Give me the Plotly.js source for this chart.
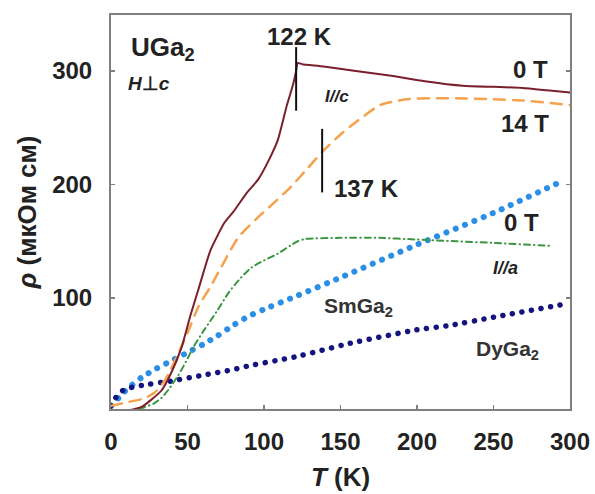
<!DOCTYPE html>
<html>
<head>
<meta charset="utf-8">
<script src="https://cdn.plot.ly/plotly-3.0.1.min.js"></script>
<style>
html,body{margin:0;padding:0;background:#fff;}
path.js-line{stroke-linecap:round !important;}
</style>
</head>
<body>
<div id="chart" style="width:595px;height:494px;"></div>
<script>
// UGa2, I//c, 0 T
const T_c0   = [0, 5, 10, 15, 20, 26, 33, 39, 46, 52, 57, 65, 74, 80, 89, 96, 103, 109, 115, 119, 121, 122, 125, 139, 160, 182, 205, 230, 250, 269, 285, 300];
const rho_c0 = [1, 0.5, 1, 2, 4, 10, 18.5, 33, 56, 85, 107, 142, 166, 176, 193, 204, 221, 239, 270, 288, 300, 307, 306, 304, 300, 296, 291, 287, 286, 285, 283, 281];
// UGa2, I//c, 14 T
const T_c14   = [0, 10, 20, 28, 35, 39, 45, 50, 57, 65, 72, 83, 96, 105, 113, 117, 129, 139, 150, 161, 176, 193, 210, 226, 250, 269, 285, 300];
const rho_c14 = [5, 8, 11, 16, 27, 37, 54, 69, 92, 110, 127, 153, 171, 182, 192, 197, 215, 230, 244, 256, 270, 275, 276, 276, 275, 274, 272, 270];
// UGa2, I//a, 0 T
const T_a0   = [0, 10, 17, 22, 28, 33, 38, 44, 49, 54, 60, 65, 70, 77, 85, 92, 100, 109, 117, 122, 127, 150, 175, 200, 225, 250, 287];
const rho_a0 = [0, 0, 1, 4, 7, 12, 20, 32, 44, 57, 70, 80, 90, 105, 118, 127, 133, 139, 146, 150, 152, 153, 153, 151.5, 150, 148.5, 146];
// SmGa2
const T_sm   = [0, 5, 10, 20, 30, 40, 50, 60, 70, 80, 90, 100, 120, 150, 200, 250, 295];
const rho_sm = [5, 12, 19, 30, 38, 45, 52, 59, 67, 76, 84, 90, 101, 118, 147, 175, 203];
// DyGa2
const T_dy   = [0, 3, 6, 10, 20, 40, 60, 80, 91, 120, 156, 200, 222, 250, 298];
const rho_dy = [5, 12, 17, 20, 23, 27, 32, 37, 40.5, 48, 60, 72, 76, 83, 95];

// transition markers
const trans_T   = [121, 138];
const trans_lo  = [265, 193];
const trans_hi  = [321, 249];

const xTicks = [0, 50, 100, 150, 200, 250, 300];
const yTicks = [100, 200, 300];

const FONT = 'Liberation Sans, Arial, sans-serif';

const traces = [
  {x: T_sm, y: rho_sm, mode: 'lines', line: {color: '#2b8fe6', width: 6, dash: '0.1px,9.9px', shape: 'spline', smoothing: 0.5}},
  {x: T_dy, y: rho_dy, mode: 'lines', line: {color: '#14147e', width: 5.5, dash: '0.1px,9.6px', shape: 'spline', smoothing: 0.5}},
  {x: T_a0, y: rho_a0, mode: 'lines', line: {color: '#3b9542', width: 2, dash: '6px,4px,0.5px,4px', shape: 'spline', smoothing: 0.6}},
  {x: T_c14, y: rho_c14, mode: 'lines', line: {color: '#f4a24e', width: 2.5, dash: '11px,8px', shape: 'spline', smoothing: 0.6}},
  {x: T_c0, y: rho_c0, mode: 'lines', line: {color: '#7a1f2b', width: 2, shape: 'spline', smoothing: 0.5}}
];

const shapes = trans_T.map((t, i) => ({
  type: 'line', xref: 'x', yref: 'y', x0: t, x1: t, y0: trans_lo[i], y1: trans_hi[i],
  line: {color: '#111', width: 2}
}));

function ann(text, x, y, size, color) {
  return {text: text, x: x, y: y, xref: 'x', yref: 'y', showarrow: false,
    xanchor: 'center', yanchor: 'middle',
    font: {family: FONT, size: size, color: color || '#222', weight: 'bold'}};
}

const annotations = [
  ann('UGa<sub>2</sub>', 34, 320, 26),
  ann('<i>H</i>⊥<i>c</i>', 25, 289, 19),
  ann('122 K', 123.5, 330, 24),
  ann('0 T', 274, 301, 24),
  ann('<i>I//c</i>', 148, 277.5, 17),
  ann('14 T', 270.6, 253.7, 24),
  ann('137 K', 167, 196.5, 24),
  ann('0 T', 268, 166.5, 24),
  ann('<i>I//a</i>', 258, 126, 18),
  ann('SmGa<sub>2</sub>', 162, 92, 21, '#333'),
  ann('DyGa<sub>2</sub>', 259, 54.5, 21, '#333')
];

const axisCommon = {
  showgrid: false, zeroline: false, showline: true, linecolor: '#808080', linewidth: 2,
  ticks: 'inside', ticklen: 4, tickwidth: 1.5, tickcolor: '#808080',
  tickfont: {family: FONT, size: 24, color: '#222', weight: 'bold'}
};

const layout = {
  width: 595, height: 494,
  margin: {l: 111, r: 25, t: 15, b: 85},
  paper_bgcolor: '#fff', plot_bgcolor: '#fff',
  showlegend: false,
  xaxis: Object.assign({}, axisCommon, {
    range: [0, 300], tickmode: 'array', tickvals: xTicks, ticktext: xTicks.map(String),
    mirror: true, ticklabelstandoff: 10,
    title: {text: '<i>T</i> (K)', standoff: 14, font: {family: FONT, size: 26, color: '#222', weight: 'bold'}}
  }),
  yaxis: Object.assign({}, axisCommon, {
    range: [2.2, 349.3], tickmode: 'array', tickvals: yTicks, ticktext: yTicks.map(String),
    mirror: 'ticks', ticklabelstandoff: 12,
    title: {text: '<i>ρ</i> (мкОм см)', standoff: 8, font: {family: FONT, size: 26, color: '#222', weight: 'bold'}}
  }),
  shapes: shapes,
  annotations: annotations
};

Plotly.newPlot('chart', traces, layout, {staticPlot: true, displayModeBar: false});
</script>
</body>
</html>
